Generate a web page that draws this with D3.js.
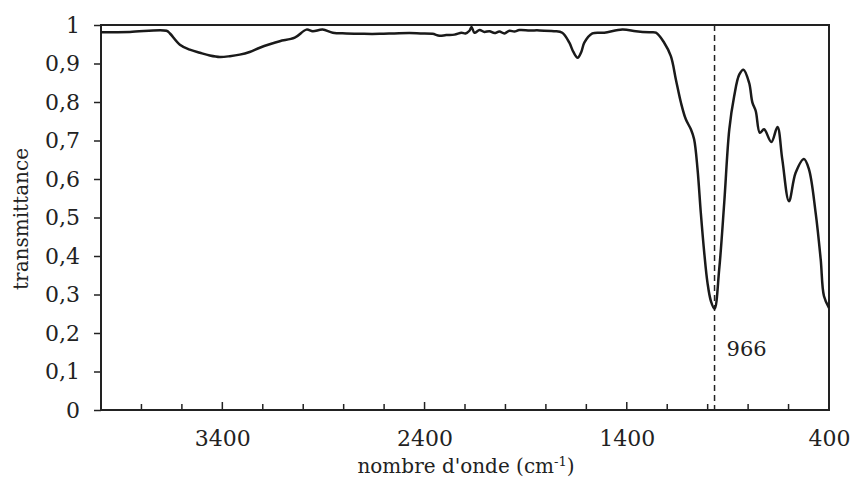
<!DOCTYPE html>
<html>
<head>
<meta charset="utf-8">
<script src="https://cdn.jsdelivr.net/npm/d3@7"></script>
<style>
  body { margin: 0; background: #fff; }
  text { font-family: "DejaVu Serif", serif; fill: #222; }
</style>
</head>
<body>
<div class="chart"></div>
<script>
var svgWidth = 854;
var svgHeight = 490;

var margin = { top: 25, right: 25, bottom: 80, left: 101 };

var width = svgWidth - margin.left - margin.right;
var height = svgHeight - margin.top - margin.bottom;

// spectrum
var wavenumber = [4000, 3857, 3676, 3659, 3610, 3561, 3511, 3462, 3412, 3363, 3314, 3265, 3215, 3166, 3116,
  3042, 2984, 2953, 2904, 2854, 2787, 2700, 2622, 2550, 2474, 2420, 2361, 2326, 2293, 2252, 2217, 2198,
  2178, 2168, 2153, 2128, 2104, 2079, 2054, 2030, 2005, 1980, 1956, 1931, 1880, 1832, 1760, 1719, 1684,
  1664, 1643, 1625, 1610, 1570, 1511, 1422, 1355, 1289, 1256, 1215, 1182, 1157, 1132, 1108, 1083, 1067,
  1050, 1034, 1017, 1001, 984, 966, 943, 918, 893, 869, 844, 823, 795, 779, 762, 742, 721, 685, 655, 631,
  598, 565, 524, 499, 466, 441, 425, 400];
var transmittance = [0.981, 0.982, 0.985, 0.978, 0.949, 0.936, 0.928, 0.921, 0.917, 0.919, 0.923, 0.93, 0.941, 0.95, 0.958,
  0.967, 0.988, 0.984, 0.988, 0.980, 0.978, 0.977, 0.977, 0.978, 0.979, 0.978, 0.977, 0.972, 0.974, 0.975, 0.980, 0.978,
  0.985, 0.995, 0.980, 0.987, 0.982, 0.984, 0.979, 0.983, 0.978, 0.985, 0.983, 0.987, 0.986, 0.986, 0.984, 0.980, 0.954,
  0.930, 0.915, 0.930, 0.954, 0.978, 0.980, 0.988, 0.984, 0.981, 0.980, 0.954, 0.919, 0.858, 0.798, 0.755, 0.729, 0.703,
  0.625, 0.513, 0.409, 0.331, 0.283, 0.263, 0.365, 0.539, 0.729, 0.815, 0.871, 0.884, 0.850, 0.799, 0.776, 0.720, 0.729, 0.696, 0.735, 0.651,
  0.542, 0.616, 0.652, 0.625, 0.512, 0.391, 0.296, 0.265];

var yTicks = [0, 0.1, 0.2, 0.3, 0.4, 0.5, 0.6, 0.7, 0.8, 0.9, 1];
var xMajorTicks = [3400, 2400, 1400, 400];
var markLine = 966;

var data = wavenumber.map(function(w, i) {
  return { x: w, y: transmittance[i] };
});

var svg = d3.select(".chart")
  .append("svg")
  .attr("width", svgWidth)
  .attr("height", svgHeight);

var chart = svg.append("g")
  .attr("transform", "translate(" + margin.left + "," + margin.top + ")");

var xScale = d3.scaleLinear().domain([4000, 400]).range([0, width]);
var yScale = d3.scaleLinear().domain([0, 1]).range([height, 0]);

var fmt = function(d) { return d3.format("")(+d.toFixed(1)).replace(".", ","); };

// y axis (ticks outside)
var leftAxis = d3.axisLeft(yScale).tickValues(yTicks).tickSize(7).tickPadding(14).tickFormat(fmt);
var yAxis = chart.append("g").call(leftAxis);
yAxis.select(".domain").remove();
yAxis.selectAll(".tick line").attr("stroke", "#222").attr("stroke-width", 1.5);
yAxis.selectAll("text").style("font-size", "22px");

// x axis: minor ticks every 200 pointing inward, labels on majors
var minor = d3.range(3800, 400, -200);
chart.append("g")
  .attr("transform", "translate(0," + height + ")")
  .selectAll("line")
  .data(minor)
  .enter()
  .append("line")
  .attr("x1", function(d) { return xScale(d); })
  .attr("x2", function(d) { return xScale(d); })
  .attr("y1", 0)
  .attr("y2", function(d) { return xMajorTicks.indexOf(d) >= 0 ? -8 : -6; })
  .attr("stroke", "#222")
  .attr("stroke-width", 1.5);

var bottomAxis = d3.axisBottom(xScale).tickValues(xMajorTicks).tickSize(0).tickPadding(20).tickFormat(d3.format("d"));
var xAxis = chart.append("g").attr("transform", "translate(0," + height + ")").call(bottomAxis);
xAxis.select(".domain").remove();
xAxis.selectAll("text").style("font-size", "22px");

// frame
chart.append("rect")
  .attr("x", 0).attr("y", 0)
  .attr("width", width).attr("height", height)
  .attr("fill", "none")
  .attr("stroke", "#222")
  .attr("stroke-width", 2);

// dashed marker
chart.append("line")
  .attr("x1", xScale(markLine)).attr("x2", xScale(markLine))
  .attr("y1", 0).attr("y2", height)
  .attr("stroke", "#222")
  .attr("stroke-width", 1.5)
  .attr("stroke-dasharray", "6,4");

chart.append("text")
  .attr("x", xScale(markLine) + 12)
  .attr("y", yScale(0.14))
  .style("font-size", "21px")
  .text(markLine);

// spectrum
var line = d3.line()
  .x(function(d) { return xScale(d.x); })
  .y(function(d) { return yScale(d.y); })
  .curve(d3.curveCatmullRom.alpha(0.5));

chart.append("path")
  .datum(data)
  .attr("d", line)
  .attr("fill", "none")
  .attr("stroke", "#1a1a1a")
  .attr("stroke-width", 2.5)
  .attr("stroke-linejoin", "round");

// axis titles
svg.append("text")
  .attr("transform", "rotate(-90)")
  .attr("x", -(margin.top + 194))
  .attr("y", 28)
  .attr("text-anchor", "middle")
  .style("font-size", "20px")
  .text("transmittance");

var xt = svg.append("text")
  .attr("x", margin.left + width / 2 + 1)
  .attr("y", 473)
  .attr("text-anchor", "middle")
  .style("font-size", "20px");
xt.append("tspan").text("nombre d'onde (cm");
xt.append("tspan").attr("dy", -7).style("font-size", "13px").text("-1");
xt.append("tspan").attr("dy", 7).text(")");
</script>
</body>
</html>
